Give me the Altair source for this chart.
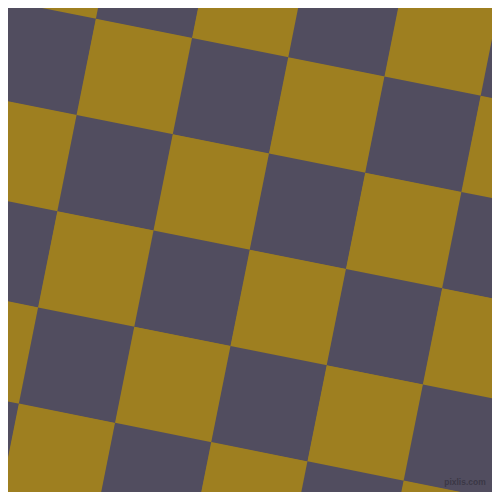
import altair as alt
import pandas as pd

# lattice indices of the checkerboard tiles
col_index = [-2, -1, 0, 1, 2, 3, 4, 5, 6]
row_index = [-2, -1, 0, 1, 2, 3, 4, 5, 6]
tone_names = ["gold", "slate"]
tone_colors = ["#9E7F20", "#514D5F"]
watermark = ["pixlis.com"]

rows = []
for i in col_index:
    for j in row_index:
        rows.append({"i": i, "j": j, "tone": tone_names[(i + j) % 2]})
df = pd.DataFrame(rows)

xs = alt.Scale(domain=[8, 492], nice=False, zero=False)
ys = alt.Scale(domain=[8, 492], nice=False, zero=False, reverse=True)

tiles = (
    alt.Chart(df)
    .transform_calculate(
        cx="96 + (datum.i + 0.5) * 96.2 - (datum.j + 0.5) * 19.25",
        cy="19 + (datum.i + 0.5) * 19.25 + (datum.j + 0.5) * 96.2",
    )
    .mark_point(shape="square", filled=True, opacity=1, angle=11.31, size=9700, strokeWidth=0, clip=True)
    .encode(
        x=alt.X("cx:Q", scale=xs, axis=None),
        y=alt.Y("cy:Q", scale=ys, axis=None),
        color=alt.Color("tone:N", scale=alt.Scale(domain=tone_names, range=tone_colors), legend=None),
    )
)

wm = (
    alt.Chart(pd.DataFrame({"t": watermark, "x": [465], "y": [485]}))
    .mark_text(font="Liberation Sans", fontSize=8.5, fontWeight="bold", color="#3B3846",
               align="center", baseline="alphabetic")
    .encode(x=alt.X("x:Q", scale=xs, axis=None), y=alt.Y("y:Q", scale=ys, axis=None), text="t:N")
)

chart = (
    alt.layer(tiles, wm)
    .properties(width=484, height=484, padding=0, autosize="none", background="#9E7F20")
    .configure_view(stroke=None)
)

chart.save("out.html", embed_options={"renderer": "svg", "actions": False})
